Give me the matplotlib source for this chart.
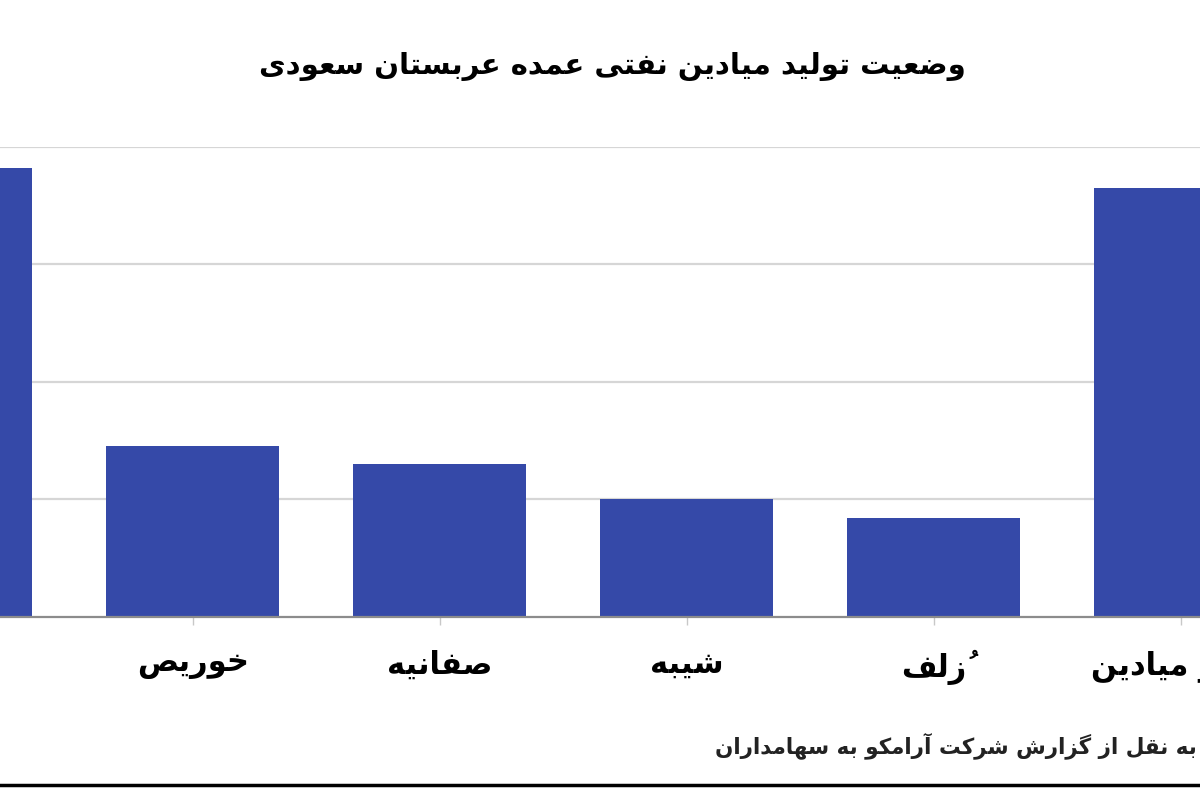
import matplotlib
matplotlib.use("Agg")
import matplotlib.pyplot as plt
from matplotlib.lines import Line2D

# داده‌ها (میلیون بشکه در روز، تقریبی از روی تصویر)
fields = ["غوار", "خوریص", "صفانیه", "شیبه", "زُلف", "سایر میادین"]
output = [3.82, 1.45, 1.30, 1.00, 0.84, 3.65]
grid_ticks = [1, 2, 3, 4]

title = "وضعیت تولید میادین نفتی عمده عربستان سعودی"
source = "به نقل از گزارش شرکت آرامکو به سهامداران"

# شکل‌دهی ساده‌ی حروف فارسی (matplotlib خودش حروف را نمی‌چسباند)
# (isolated, final, initial, medial)
FORMS = {
    "ا": (0xFE8D, 0xFE8E, None, None),
    "آ": (0xFE81, 0xFE82, None, None),
    "ب": (0xFE8F, 0xFE90, 0xFE91, 0xFE92),
    "پ": (0xFB56, 0xFB57, 0xFB58, 0xFB59),
    "ت": (0xFE95, 0xFE96, 0xFE97, 0xFE98),
    "ث": (0xFE99, 0xFE9A, 0xFE9B, 0xFE9C),
    "ج": (0xFE9D, 0xFE9E, 0xFE9F, 0xFEA0),
    "چ": (0xFB7A, 0xFB7B, 0xFB7C, 0xFB7D),
    "ح": (0xFEA1, 0xFEA2, 0xFEA3, 0xFEA4),
    "خ": (0xFEA5, 0xFEA6, 0xFEA7, 0xFEA8),
    "د": (0xFEA9, 0xFEAA, None, None),
    "ذ": (0xFEAB, 0xFEAC, None, None),
    "ر": (0xFEAD, 0xFEAE, None, None),
    "ز": (0xFEAF, 0xFEB0, None, None),
    "ژ": (0xFB8A, 0xFB8B, None, None),
    "س": (0xFEB1, 0xFEB2, 0xFEB3, 0xFEB4),
    "ش": (0xFEB5, 0xFEB6, 0xFEB7, 0xFEB8),
    "ص": (0xFEB9, 0xFEBA, 0xFEBB, 0xFEBC),
    "ض": (0xFEBD, 0xFEBE, 0xFEBF, 0xFEC0),
    "ط": (0xFEC1, 0xFEC2, 0xFEC3, 0xFEC4),
    "ظ": (0xFEC5, 0xFEC6, 0xFEC7, 0xFEC8),
    "ع": (0xFEC9, 0xFECA, 0xFECB, 0xFECC),
    "غ": (0xFECD, 0xFECE, 0xFECF, 0xFED0),
    "ف": (0xFED1, 0xFED2, 0xFED3, 0xFED4),
    "ق": (0xFED5, 0xFED6, 0xFED7, 0xFED8),
    "ک": (0xFB8E, 0xFB8F, 0xFB90, 0xFB91),
    "گ": (0xFB92, 0xFB93, 0xFB94, 0xFB95),
    "ل": (0xFEDD, 0xFEDE, 0xFEDF, 0xFEE0),
    "م": (0xFEE1, 0xFEE2, 0xFEE3, 0xFEE4),
    "ن": (0xFEE5, 0xFEE6, 0xFEE7, 0xFEE8),
    "ه": (0xFEE9, 0xFEEA, 0xFEEB, 0xFEEC),
    "و": (0xFEED, 0xFEEE, None, None),
    "ی": (0xFBFC, 0xFBFD, 0xFBFE, 0xFBFF),
}
MARKS = set("\u064b\u064c\u064d\u064e\u064f\u0650\u0651\u0652")


def fa(text):
    # خوشه‌ها: حرف پایه + اعراب
    clusters = []
    for ch in text:
        if ch in MARKS and clusters:
            clusters[-1][1].append(ch)
        else:
            clusters.append([ch, []])
    n = len(clusters)
    out = []
    for i, (ch, marks) in enumerate(clusters):
        if ch not in FORMS:
            out.append(ch + "".join(marks))
            continue
        iso, fin, ini, med = FORMS[ch]
        prev = clusters[i - 1][0] if i > 0 else None
        nxt = clusters[i + 1][0] if i < n - 1 else None
        join_prev = prev in FORMS and FORMS[prev][2] is not None
        join_next = nxt in FORMS and ini is not None
        if join_prev and join_next:
            g = med
        elif join_prev:
            g = fin
        elif join_next:
            g = ini
        else:
            g = iso
        out.append(chr(g) + "".join(marks))
    return "".join(reversed(out))


plt.rcParams["font.family"] = ["DejaVu Sans"]

fig = plt.figure(figsize=(12, 8), dpi=100)
ax = fig.add_axes([-0.148, 0.229, 1.235, 0.5875])

x = list(range(len(fields)))
ax.bar(x, output, width=0.7, color="#3549a8", zorder=3)

ax.set_xlim(-0.5, len(fields) - 0.5)
ax.set_ylim(0, 4)
ax.set_yticks(grid_ticks)
ax.set_yticklabels([])
ax.yaxis.grid(True, color="#d6d6d6", linewidth=1.6, zorder=0)
ax.tick_params(axis="y", length=0)

ax.set_xticks(x)
ax.set_xticklabels([fa(f) for f in fields], fontsize=22, fontweight="bold")
ax.tick_params(axis="x", length=6, width=1, color="#c8c8c8", pad=18)
# برچسب اولین میدان در تصویر اصلی بیرون از کادر است
ax.get_xticklabels()[0].set_visible(False)

for s in ["top", "left", "right"]:
    ax.spines[s].set_visible(False)
ax.spines["bottom"].set_color("#8c8c8c")
ax.spines["bottom"].set_linewidth(1.6)
ax.spines["bottom"].set_zorder(4)

fig.text(0.51, 0.917, fa(title), ha="center", va="center",
         fontsize=21, fontweight="bold")
fig.text(0.997, 0.068, fa(source), ha="right", va="center",
         fontsize=15.5, fontweight="bold", color="#222222")

fig.add_artist(Line2D([0, 1], [0.019, 0.019], color="black", linewidth=2.5))

fig.savefig("out.png", dpi=100)
